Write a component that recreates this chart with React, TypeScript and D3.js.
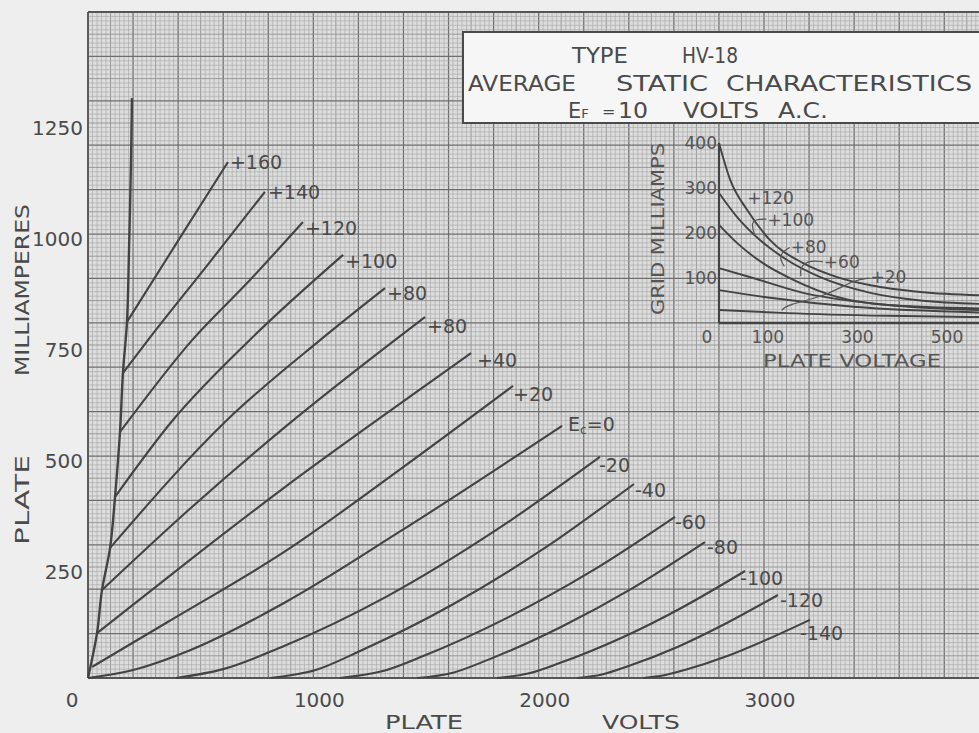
import React from "react";
import * as d3 from "d3";

type P = [number, number];

// ---- main chart data: plate volts vs plate milliamperes ----
const xTicks = [0, 1000, 2000, 3000];
const yTicks = [250, 500, 750, 1000, 1250];

const limitLine: P[] = [[0, 0], [40, 101], [62, 198], [98, 293], [120, 408], [142, 554], [155, 687], [173, 802], [182, 964], [191, 1167], [195, 1306]];

const curveP160: P[] = [[173, 802], [400, 985], [621, 1162]];
const curveP140: P[] = [[155, 687], [266, 761], [530, 930], [785, 1095]];
const curveP120: P[] = [[142, 554], [462, 761], [720, 897], [954, 1027]];
const curveP100: P[] = [[120, 408], [377, 581], [719, 762], [1132, 953]];
const curveP80: P[] = [[98, 293], [617, 581], [1030, 761], [1318, 878]];
const curveP60: P[] = [[62, 198], [450, 380], [874, 565], [1385, 770], [1496, 813]];
const curveP40: P[] = [[40, 101], [450, 265], [874, 430], [1385, 618], [1700, 732]];
const curveP20: P[] = [[18, 25], [350, 125], [874, 285], [1385, 470], [1886, 658]];
const curve0: P[] = [[0, 0], [200, 18], [450, 62], [874, 170], [1385, 330], [2104, 568]];
const curveM20: P[] = [[390, 0], [600, 20], [860, 70], [1331, 185], [1802, 330], [2272, 498]];
const curveM40: P[] = [[808, 0], [1010, 18], [1212, 62], [1616, 165], [2019, 290], [2423, 437]];
const curveM60: P[] = [[1118, 0], [1304, 15], [1490, 50], [1862, 136], [2233, 240], [2605, 363]];
const curveM80: P[] = [[1460, 0], [1620, 12], [1780, 42], [2099, 115], [2419, 203], [2738, 306]];
const curveM100: P[] = [[1815, 0], [1953, 10], [2090, 33], [2366, 90], [2641, 160], [2916, 241]];
const curveM120: P[] = [[2170, 0], [2281, 8], [2393, 26], [2616, 70], [2839, 125], [3062, 187]];
const curveM140: P[] = [[2463, 0], [2556, 6], [2648, 18], [2834, 49], [3019, 88], [3204, 131]];

const curves: P[][] = [curveP160, curveP140, curveP120, curveP100, curveP80, curveP60, curveP40, curveP20, curve0, curveM20, curveM40, curveM60, curveM80, curveM100, curveM120, curveM140];
const curveLabels = ["+160", "+140", "+120", "+100", "+80", "+80", "+40", "+20", "Ec=0", "-20", "-40", "-60", "-80", "-100", "-120", "-140"];
const labelNudge: P[] = [[2, 0], [3, 0], [2, 6], [2, 6], [2, 5], [2, 9], [6, 7], [0, 8], [6, -2], [-1, 8], [1, 6], [0, 5], [2, 5], [-5, 7], [2, 5], [-10, 13]];

// ---- inset: grid milliamps vs plate voltage ----
const insetXTicks = [0, 100, 300, 500];
const insetYTicks = [100, 200, 300, 400];
const insetC1: P[] = [[0, 400], [25, 318], [63, 251], [114, 184], [188, 133], [264, 102], [338, 84], [450, 69], [600, 61]];
const insetC2: P[] = [[0, 289], [40, 236], [92, 184], [152, 140], [226, 102], [338, 67], [450, 50], [600, 42]];
const insetC3: P[] = [[0, 218], [40, 178], [98, 133], [166, 96], [264, 58], [376, 40], [600, 32]];
const insetC4: P[] = [[0, 122], [76, 100], [188, 67], [338, 44], [600, 28]];
const insetC5: P[] = [[0, 73], [114, 56], [300, 36], [600, 23]];
const insetC6: P[] = [[0, 29], [152, 22], [376, 16], [600, 13]];
const insetCurves: P[][] = [insetC1, insetC2, insetC3, insetC4, insetC5, insetC6];
const insetLabels = ["+120", "+100", "+80", "+60", "+20"];
const insetLabelAt: P[] = [[63, 278], [108, 230], [160, 170], [234, 136], [338, 102]];
const leader100: P[] = [[106, 231], [80, 231], [72, 218], [80, 196]];
const leader80: P[] = [[158, 168], [140, 158], [136, 140], [146, 126]];
const leader60: P[] = [[232, 136], [200, 140], [180, 122], [183, 104]];
const leader20: P[] = [[336, 100], [300, 96], [240, 60], [150, 40], [140, 28]];

const W = 979;
const H = 733;
const INK = "#434343";
const FONT = "'DejaVu Sans', 'Liberation Sans', sans-serif";

export default function App() {
  const x = d3.scaleLinear().domain([0, 3000]).range([88, 764]);
  const y = d3.scaleLinear().domain([0, 1500]).range([678, 12]);
  const ix = d3.scaleLinear().domain([0, 500]).range([719, 943]);
  const iy = d3.scaleLinear().domain([0, 400]).range([323, 143]);

  const line = d3.line<P>().x((d) => x(d[0])).y((d) => y(d[1])).curve(d3.curveMonotoneX);
  const limitPath = d3.line<P>().x((d) => x(d[0])).y((d) => y(d[1])).curve(d3.curveCatmullRom.alpha(0.5));
  const iline = d3.line<P>().x((d) => ix(d[0])).y((d) => iy(d[1])).curve(d3.curveMonotoneX);
  const ileader = d3.line<P>().x((d) => ix(d[0])).y((d) => iy(d[1])).curve(d3.curveBasis);

  const left = x(0);
  const right = W;
  const top = y(1500);
  const bottom = y(0);

  const vLines: { v: number; k: number }[] = [];
  for (let v = 0; x(v) <= right + 1; v += 20) {
    const k = v % 200 === 0 ? 2 : v % 100 === 0 ? 1 : 0;
    vLines.push({ v, k });
  }
  const hLines: { v: number; k: number }[] = [];
  for (let v = 0; v <= 1500; v += 10) {
    const k = v % 100 === 0 ? 2 : v % 50 === 0 ? 1 : 0;
    hLines.push({ v, k });
  }
  const gStroke = ["#a9a9a9", "#8f8f8f", "#6e6e6e"];
  const gWidth = [0.65, 0.85, 1.25];

  return (
    <svg width={W} height={H} style={{ position: "absolute", left: 0, top: 0, background: "#eeeeee" }} fontFamily={FONT}>
      <rect x={0} y={0} width={W} height={H} fill="#eeeeee" />
      {/* graph paper */}
      <rect x={left} y={top} width={right - left} height={bottom - top} fill="#dddddd" />
      <g>
        {vLines.map((g, i) => (
          <line key={"v" + i} x1={x(g.v)} x2={x(g.v)} y1={top} y2={bottom} stroke={gStroke[g.k]} strokeWidth={gWidth[g.k]} />
        ))}
        {hLines.map((g, i) => (
          <line key={"h" + i} x1={left} x2={right} y1={y(g.v)} y2={y(g.v)} stroke={gStroke[g.k]} strokeWidth={gWidth[g.k]} />
        ))}
      </g>
      {/* plot border */}
      <line x1={left} x2={left} y1={top} y2={bottom} stroke="#555" strokeWidth={1.8} />
      <line x1={left} x2={right} y1={top} y2={top} stroke="#555" strokeWidth={1.8} />
      <line x1={left} x2={right} y1={bottom} y2={bottom} stroke="#555" strokeWidth={1.8} />

      {/* curves */}
      <path d={limitPath(limitLine) || ""} fill="none" stroke={INK} strokeWidth={2.4} />
      {curves.map((c, i) => (
        <path key={"c" + i} d={line(c) || ""} fill="none" stroke={INK} strokeWidth={2.1} />
      ))}
      {curves.map((c, i) => {
        const end = c[c.length - 1];
        const lx = x(end[0]) + labelNudge[i][0];
        const ly = y(end[1]) + labelNudge[i][1] + 7;
        const lab = curveLabels[i];
        if (lab.startsWith("Ec")) {
          return (
            <text key={"l" + i} x={lx} y={ly} fontSize={19} fill="#4a4a4a">
              E<tspan fontSize={12} dy={3}>c</tspan>
              <tspan dy={-3}>=0</tspan>
            </text>
          );
        }
        return (
          <text key={"l" + i} x={lx} y={ly} fontSize={19} fill="#4a4a4a">
            {lab}
          </text>
        );
      })}

      {/* title box */}
      <rect x={463} y={32} width={W - 463 + 10} height={91} fill="#f6f6f6" stroke="#4a4a4a" strokeWidth={2} />
      <g fill="#4a4a4a" fontSize={21}>
        <text x={572} y={63} textLength={56} lengthAdjust="spacingAndGlyphs">TYPE</text>
        <text x={682} y={63} textLength={56} lengthAdjust="spacingAndGlyphs">HV-18</text>
        <text x={468} y={91} textLength={108} lengthAdjust="spacingAndGlyphs">AVERAGE</text>
        <text x={616} y={91} textLength={92} lengthAdjust="spacingAndGlyphs">STATIC</text>
        <text x={726} y={91} textLength={246} lengthAdjust="spacingAndGlyphs">CHARACTERISTICS</text>
        <text x={568} y={118}>
          E<tspan fontSize={13} dy={0}>F</tspan>
        </text>
        <text x={602} y={117} fontSize={16}>=</text>
        <text x={618} y={118} textLength={30} lengthAdjust="spacingAndGlyphs">10</text>
        <text x={683} y={118} textLength={76} lengthAdjust="spacingAndGlyphs">VOLTS</text>
        <text x={778} y={118} textLength={50} lengthAdjust="spacingAndGlyphs">A.C.</text>
      </g>

      {/* inset */}
      <line x1={ix(0)} x2={ix(0)} y1={iy(0)} y2={iy(400)} stroke={INK} strokeWidth={2.2} />
      <line x1={ix(0)} x2={right} y1={iy(0)} y2={iy(0)} stroke={INK} strokeWidth={2.4} />
      {insetCurves.map((c, i) => (
        <path key={"ic" + i} d={iline(c) || ""} fill="none" stroke={INK} strokeWidth={1.9} />
      ))}
      {[leader100, leader80, leader60, leader20].map((c, i) => (
        <path key={"ld" + i} d={ileader(c) || ""} fill="none" stroke="#555" strokeWidth={1.2} />
      ))}
      <g fontSize={17} fill="#555">
        {insetLabels.map((t, i) => (
          <text key={"il" + i} x={ix(insetLabelAt[i][0])} y={iy(insetLabelAt[i][1]) + 6}>
            {t}
          </text>
        ))}
        {insetYTicks.map((t) => (
          <text key={"iy" + t} x={ix(0) - 2} y={iy(t) + 6} textAnchor="end">
            {t}
          </text>
        ))}
        {insetXTicks.map((t) => (
          <text key={"ix" + t} x={ix(t) + (t === 0 ? -12 : 4)} y={iy(0) + 20} textAnchor="middle">
            {t}
          </text>
        ))}
        <text x={852} y={367} textAnchor="middle" fontSize={18} textLength={178} lengthAdjust="spacingAndGlyphs">
          PLATE  VOLTAGE
        </text>
        <text transform={`translate(664, 229) rotate(-90)`} textAnchor="middle" fontSize={18} textLength={172} lengthAdjust="spacingAndGlyphs">
          GRID MILLIAMPS
        </text>
      </g>

      {/* axis tick labels */}
      <g fontSize={20} fill="#4a4a4a">
        {xTicks.map((t) => (
          <text key={"xt" + t} x={x(t) + (t === 0 ? -16 : 6)} y={707} textAnchor="middle">
            {t}
          </text>
        ))}
        {yTicks.map((t) => (
          <text key={"yt" + t} x={83} y={y(t) + 12} textAnchor="end">
            {t}
          </text>
        ))}
        <text x={424} y={729} textAnchor="middle" textLength={78} lengthAdjust="spacingAndGlyphs">PLATE</text>
        <text x={641} y={729} textAnchor="middle" textLength={78} lengthAdjust="spacingAndGlyphs">VOLTS</text>
        <text transform="translate(29, 290) rotate(-90)" textAnchor="middle" textLength={172} lengthAdjust="spacingAndGlyphs">
          MILLIAMPERES
        </text>
        <text transform="translate(29, 500) rotate(-90)" textAnchor="middle" textLength={90} lengthAdjust="spacingAndGlyphs">
          PLATE
        </text>
      </g>
    </svg>
  );
}
